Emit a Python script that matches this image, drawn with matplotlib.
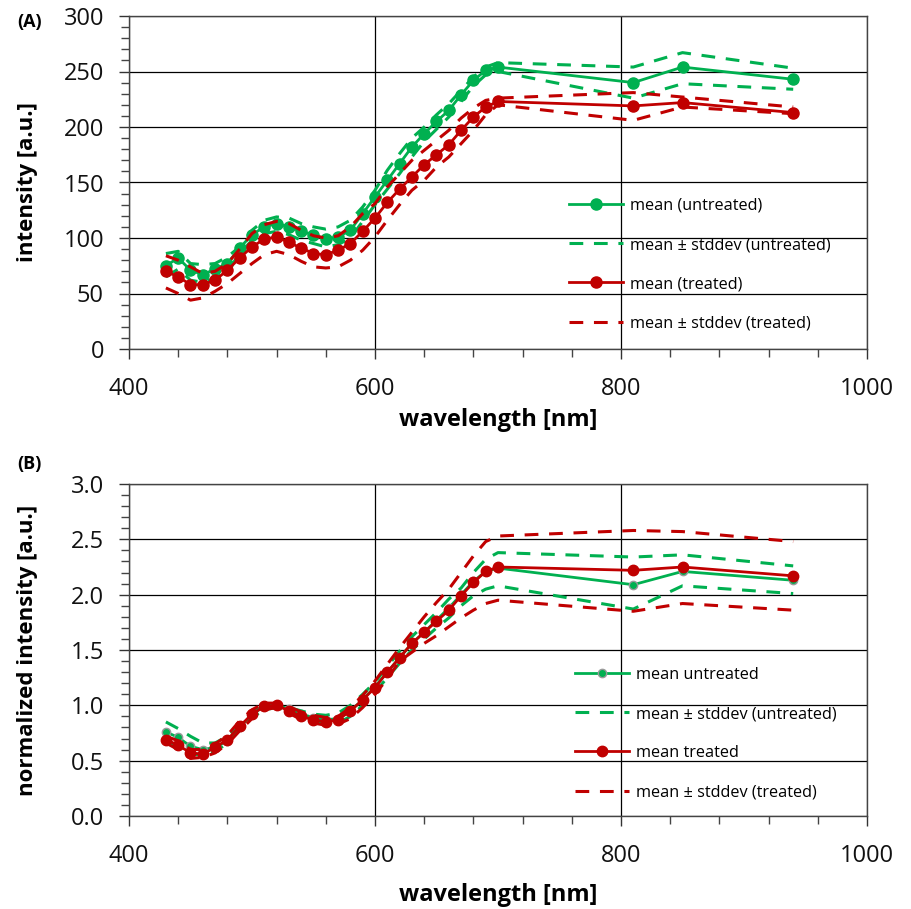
import matplotlib.pyplot as plt
from matplotlib.ticker import MultipleLocator

plt.rcParams['font.family'] = ['Open Sans', 'DejaVu Sans']

GREEN = '#00B050'
RED = '#C00000'

wavelength = [430, 440, 450, 460, 470, 480, 490, 500, 510, 520, 530, 540, 550, 560,
              570, 580, 590, 600, 610, 620, 630, 640, 650, 660, 670, 680, 690, 700,
              810, 850, 940]

# panel A: raw intensity
a_untreated = [75, 82, 71, 67, 72, 77, 91, 103, 110, 113, 110, 106, 103, 99,
               101, 107, 122, 137, 152, 167, 182, 194, 205, 215, 229, 242, 251, 254,
               240, 254, 243]
a_untreated_hi = [86, 88, 77, 76, 77, 83, 92, 107, 116, 119, 118, 113, 110, 108,
                  110, 116, 128, 143, 161, 176, 190, 200, 211, 221, 233, 245, 254, 258,
                  254, 267, 253]
a_untreated_lo = [65, 72, 62, 60, 64, 70, 86, 98, 104, 106, 103, 98, 95, 92,
                  94, 100, 115, 130, 144, 158, 173, 187, 198, 209, 223, 237, 247, 250,
                  226, 239, 234]
a_treated = [70, 65, 58, 58, 62, 71, 82, 92, 99, 101, 96, 91, 86, 85,
             89, 95, 106, 118, 132, 144, 155, 166, 175, 184, 197, 209, 218, 223,
             219, 222, 213]
a_treated_hi = [84, 80, 74, 68, 70, 77, 90, 104, 112, 115, 113, 107, 102, 100,
                102, 110, 122, 131, 146, 158, 170, 179, 188, 197, 208, 217, 224, 226,
                231, 227, 218]
a_treated_lo = [55, 50, 44, 46, 52, 59, 68, 77, 85, 88, 85, 79, 74, 73,
                74, 80, 89, 101, 116, 130, 143, 152, 164, 173, 185, 197, 211, 220,
                206, 218, 212]

# panel B: normalized intensity
b_untreated = [0.76, 0.71, 0.63, 0.60, 0.62, 0.68, 0.80, 0.92, 0.99, 1.00, 0.97, 0.92, 0.89, 0.87,
               0.88, 0.95, 1.05, 1.17, 1.30, 1.43, 1.56, 1.66, 1.77, 1.88, 2.00, 2.12, 2.21, 2.24,
               2.09, 2.21, 2.13]
b_untreated_hi = [0.85, 0.79, 0.72, 0.66, 0.66, 0.72, 0.81, 0.94, 1.00, 1.02, 0.98, 0.95, 0.92, 0.91,
                  0.93, 1.00, 1.10, 1.21, 1.35, 1.49, 1.62, 1.73, 1.84, 1.96, 2.06, 2.20, 2.32, 2.38,
                  2.34, 2.36, 2.26]
b_untreated_lo = [0.68, 0.63, 0.56, 0.55, 0.58, 0.66, 0.78, 0.89, 0.96, 0.98, 0.95, 0.89, 0.86, 0.83,
                  0.84, 0.90, 1.00, 1.12, 1.25, 1.38, 1.50, 1.60, 1.70, 1.79, 1.90, 1.99, 2.05, 2.08,
                  1.87, 2.08, 2.01]
b_treated = [0.69, 0.64, 0.57, 0.56, 0.62, 0.69, 0.81, 0.92, 0.99, 1.00, 0.95, 0.90, 0.87, 0.85,
             0.87, 0.95, 1.05, 1.16, 1.30, 1.43, 1.56, 1.66, 1.76, 1.86, 1.99, 2.11, 2.21, 2.25,
             2.22, 2.25, 2.17]
b_treated_hi = [0.72, 0.68, 0.60, 0.60, 0.65, 0.73, 0.86, 0.96, 1.02, 1.02, 0.99, 0.94, 0.91, 0.89,
                0.90, 0.98, 1.09, 1.22, 1.37, 1.52, 1.66, 1.80, 1.93, 2.05, 2.20, 2.35, 2.48, 2.53,
                2.58, 2.57, 2.48]
b_treated_lo = [0.66, 0.60, 0.52, 0.53, 0.57, 0.65, 0.77, 0.88, 0.96, 0.98, 0.93, 0.87, 0.84, 0.82,
                0.83, 0.88, 0.98, 1.10, 1.24, 1.40, 1.48, 1.56, 1.63, 1.71, 1.79, 1.86, 1.92, 1.95,
                1.85, 1.92, 1.86]

DASH = (0, (4.5, 3.5))
W, H = 911, 909


def draw_panel(ax, g, g_hi, g_lo, r, r_hi, r_lo, labels, ms_g, ms_r, g_edge, leg_xy, xlab_y):
    ax.plot(wavelength, g, color=GREEN, lw=2, marker='o', ms=ms_g,
            mec=g_edge, mew=1, label=labels[0], zorder=3)
    ax.plot(wavelength, g_hi, color=GREEN, lw=2.2, linestyle=DASH, label=labels[1], zorder=3)
    ax.plot(wavelength, g_lo, color=GREEN, lw=2.2, linestyle=DASH, zorder=3)
    ax.plot(wavelength, r, color=RED, lw=2, marker='o', ms=ms_r, label=labels[2], zorder=4)
    ax.plot(wavelength, r_hi, color=RED, lw=2.2, linestyle=DASH, label=labels[3], zorder=4)
    ax.plot(wavelength, r_lo, color=RED, lw=2.2, linestyle=DASH, zorder=4)

    ax.set_xlim(400, 1000)
    ax.xaxis.set_major_locator(MultipleLocator(200))
    ax.xaxis.set_minor_locator(MultipleLocator(40))
    ax.grid(True, which='major', color='black', lw=0.9)
    ax.tick_params(which='major', direction='out', length=7, width=1, labelsize=17,
                   colors='#333333', labelcolor='#111111')
    ax.tick_params(axis='y', which='major', pad=11)
    ax.tick_params(axis='x', which='major', pad=13)
    ax.tick_params(which='minor', direction='out', length=6, width=1, colors='#444444')
    for s in ax.spines.values():
        s.set_color('#444444')
        s.set_linewidth(1)
    ax.set_xlabel('wavelength [nm]', fontsize=17, fontweight='bold', va='center')
    ax.xaxis.set_label_coords(0.5, xlab_y)
    ax.legend(loc='upper left', bbox_to_anchor=(leg_xy[0] / W, 1 - leg_xy[1] / H),
              bbox_transform=fig.transFigure, frameon=False, fontsize=11.7,
              borderpad=0, borderaxespad=0,
              handlelength=3.3, labelspacing=1.42, handletextpad=0.43)


fig = plt.figure(figsize=(9.11, 9.09), dpi=100)
ax1 = fig.add_axes([129 / W, 1 - 349 / H, 738 / W, 333 / H])
ax2 = fig.add_axes([129 / W, 1 - 816 / H, 738 / W, 332 / H])

draw_panel(ax1, a_untreated, a_untreated_hi, a_untreated_lo,
           a_treated, a_treated_hi, a_treated_lo,
           ['mean (untreated)', 'mean ± stddev (untreated)',
            'mean (treated)', 'mean ± stddev (treated)'],
           8, 8, GREEN, (569, 198), -0.213)
ax1.set_ylim(0, 300)
ax1.yaxis.set_major_locator(MultipleLocator(50))
ax1.yaxis.set_minor_locator(MultipleLocator(10))
ax1.set_ylabel('intensity [a.u.]', fontsize=16, fontweight='bold', va='center')
ax1.yaxis.set_label_coords(-0.138, 0.5)

draw_panel(ax2, b_untreated, b_untreated_hi, b_untreated_lo,
           b_treated, b_treated_hi, b_treated_lo,
           ['mean untreated', 'mean ± stddev (untreated)',
            'mean treated', 'mean ± stddev (treated)'],
           6, 7.5, '#9a9a9a', (575, 667), -0.238)
ax2.set_ylim(0, 3)
ax2.yaxis.set_major_locator(MultipleLocator(0.5))
ax2.yaxis.set_minor_locator(MultipleLocator(0.1))
ax2.yaxis.set_major_formatter(plt.FormatStrFormatter('%.1f'))
ax2.set_ylabel('normalized intensity [a.u.]', fontsize=16, fontweight='bold', va='center')
ax2.yaxis.set_label_coords(-0.138, 0.5)

fig.text(17 / W, 1 - 22 / H, '(A)', fontsize=13, fontweight='bold', va='center')
fig.text(17 / W, 1 - 464 / H, '(B)', fontsize=13, fontweight='bold', va='center')

fig.savefig('out.png', dpi=100)
